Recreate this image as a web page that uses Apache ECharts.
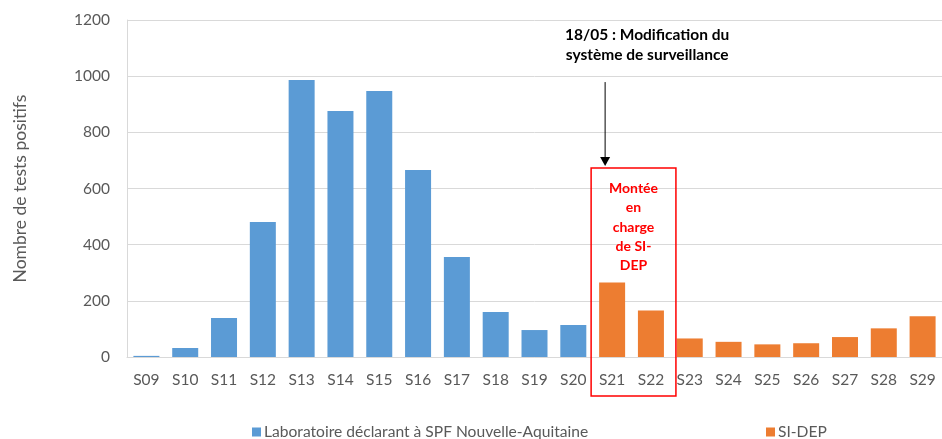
<!DOCTYPE html>
<html>
<head>
<meta charset="utf-8">
<script src="https://cdn.jsdelivr.net/npm/echarts@6/dist/echarts.min.js"></script>
<style>
  html, body { margin: 0; padding: 0; background: #fff; }
  #main { width: 942px; height: 439px; }
</style>
</head>
<body>
<div id="main"></div>
<script>
// semaines
var semaines = ['S09', 'S10', 'S11', 'S12', 'S13', 'S14', 'S15', 'S16', 'S17', 'S18', 'S19',
  'S20', 'S21', 'S22', 'S23', 'S24', 'S25', 'S26', 'S27', 'S28', 'S29'];
// Laboratoire déclarant à SPF Nouvelle-Aquitaine
var labo = [4, 32, 139, 481, 986, 876, 947, 666, 356, 160, 96, 114,
  null, null, null, null, null, null, null, null, null];
// SI-DEP
var sidep = [null, null, null, null, null, null, null, null, null, null, null, null,
  265, 166, 66, 54, 45, 49, 71, 102, 145];
var yTicks = [0, 200, 400, 600, 800, 1000, 1200];

var police = 'Lato, "Open Sans", sans-serif';
var gris = '#595959';

window.onload = function() {

	var myChart = echarts.init(document.getElementById('main'));

	var option = {
		animation: false,
		textStyle: { fontFamily: police },
		grid: { left: 127, top: 20, width: 820, bottom: 82 },
		legend: [
			{ data: ['Laboratoire déclarant à SPF Nouvelle-Aquitaine'], left: 252, top: 424, padding: 0,
			  itemWidth: 9, itemHeight: 9, icon: 'rect',
			  textStyle: { color: gris, fontSize: 15.6, fontFamily: police, padding: [0, 0, 0, -2] } },
			{ data: ['SI-DEP'], left: 766, top: 424, padding: 0,
			  itemWidth: 9, itemHeight: 9, icon: 'rect',
			  textStyle: { color: gris, fontSize: 15.6, fontFamily: police, padding: [0, 0, 0, -2] } }
		],
		xAxis: {
			type: 'category',
			data: semaines,
			axisLine: { lineStyle: { color: '#D9D9D9' } },
			axisTick: { show: false },
			axisLabel: { color: gris, fontSize: 15.5, margin: 15 }
		},
		yAxis: {
			type: 'value',
			min: yTicks[0],
			max: yTicks[yTicks.length - 1],
			interval: 200,
			name: 'Nombre de tests positifs',
			nameLocation: 'middle',
			nameGap: 98,
			nameTextStyle: { color: gris, fontSize: 17.5 },
			axisLine: { show: true, lineStyle: { color: '#D9D9D9' } },
			axisTick: { show: false },
			axisLabel: { color: gris, fontSize: 15.5, margin: 17, formatter: function(v) { return String(v); } },
			splitLine: { lineStyle: { color: '#D9D9D9' } }
		},
		series: [
			{
				name: 'Laboratoire déclarant à SPF Nouvelle-Aquitaine',
				type: 'bar',
				stack: 'total',
				barWidth: '67%',
				data: labo,
				itemStyle: { color: '#5B9BD5' }
			},
			{
				name: 'SI-DEP',
				type: 'bar',
				stack: 'total',
				barWidth: '67%',
				data: sidep,
				itemStyle: { color: '#ED7D31' }
			}
		]
	};

	myChart.setOption(option);

	// annotations : cadre rouge, flèche et texte
	var p21 = myChart.convertToPixel({ seriesIndex: 0 }, ['S21', 0]);
	var p22 = myChart.convertToPixel({ seriesIndex: 0 }, ['S22', 0]);
	var pTop = myChart.convertToPixel({ seriesIndex: 0 }, ['S21', 673]);
	var pFleche = myChart.convertToPixel({ seriesIndex: 0 }, ['S21', 979]);
	var gauche = p21[0] - 21;
	var droite = p22[0] + 25;
	var haut = pTop[1];
	var bas = p21[1] + 39;
	var fx = p21[0] - 7;

	myChart.setOption({
		graphic: [
			{ type: 'rect', shape: { x: gauche, y: haut, width: droite - gauche, height: bas - haut },
			  style: { fill: 'none', stroke: '#FF0000', lineWidth: 1.5 }, z: 10 },
			{ type: 'text', x: (gauche + droite) / 2, y: haut + 11,
			  style: { text: 'Montée\nen\ncharge\nde SI-\nDEP', fill: '#FF0000', font: 'bold 14px ' + police,
			  align: 'center', verticalAlign: 'top', lineHeight: 19.3 }, z: 10 },
			{ type: 'line', shape: { x1: fx, y1: pFleche[1], x2: fx, y2: haut - 9 },
			  style: { stroke: '#000', lineWidth: 1 }, z: 10 },
			{ type: 'polygon', shape: { points: [[fx - 5, haut - 11], [fx + 5, haut - 11], [fx, haut - 2]] },
			  style: { fill: '#000' }, z: 10 },
			{ type: 'text', x: fx + 42, y: 25,
			  style: { text: '18/05 : Modification du\nsystème de surveillance', fill: '#000', font: 'bold 15.5px ' + police,
			  align: 'center', verticalAlign: 'top', lineHeight: 20 }, z: 10 }
		]
	});

}
</script>
</body>
</html>
